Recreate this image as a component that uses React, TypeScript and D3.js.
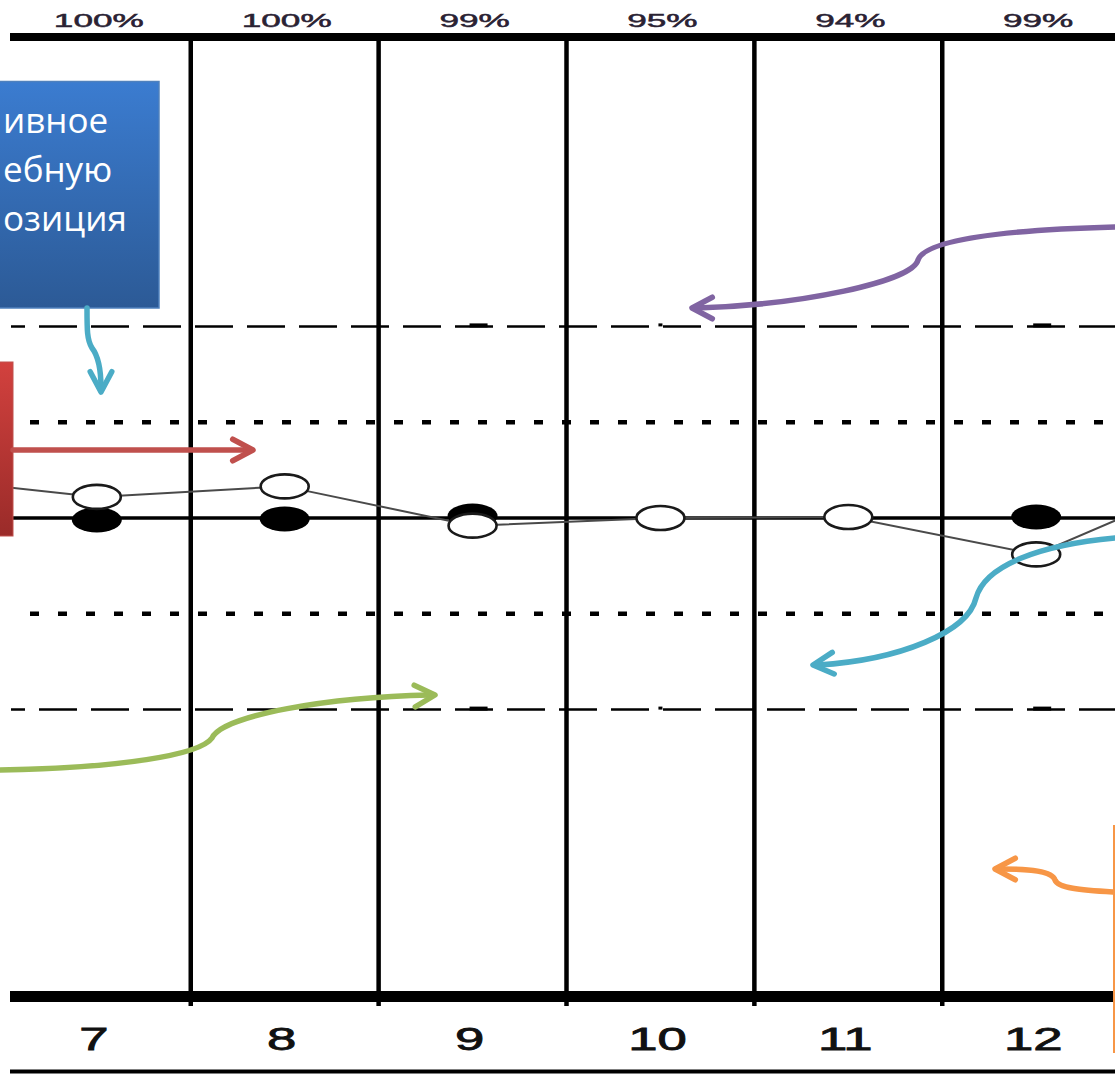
import React from 'react';
import * as d3 from 'd3';

// runs 6 and 13 sit just outside the visible crop, only their connecting segments show
const runs = ['6', '7', '8', '9', '10', '11', '12', '13'];
const shownRuns = ['7', '8', '9', '10', '11', '12'];
const percentLabels = ['100%', '100%', '99%', '95%', '94%', '99%'];
const openValues = [0.43, 0.22, 0.33, -0.08, 0.0, 0.01, -0.38, 0.46];
const filledValues: (number | null)[] = [null, -0.02, -0.01, 0.02, null, null, 0.01, null];
const dashedLevels = [-2, 2];
const dottedLevels = [-1, 1];
const boxLines = ['ивное', 'ебную', 'озиция'];

const W = 1115;
const H = 1074;

const arrowHead = (tx: number, ty: number, fx: number, fy: number, len = 23, deg = 28) => {
  const a = Math.atan2(ty - fy, tx - fx);
  const r = (deg * Math.PI) / 180;
  const p1 = [tx - len * Math.cos(a - r), ty - len * Math.sin(a - r)];
  const p2 = [tx - len * Math.cos(a + r), ty - len * Math.sin(a + r)];
  return `M${p1[0]},${p1[1]}L${tx},${ty}L${p2[0]},${p2[1]}`;
};

const arrows = [
  { color: '#8064a2', d: 'M1115,227 C1000,230 925,240 918,260 C912,282 800,305 697,308', tip: [692, 308], from: [712, 308] },
  { color: '#4bacc6', d: 'M1115,538 C1040,545 985,565 976,598 C968,632 900,660 818,665', tip: [813, 665], from: [835, 663] },
  { color: '#9bbb59', d: 'M0,770 C120,768 200,755 212,738 C222,715 330,697 430,695', tip: [435, 695], from: [415, 696] },
  { color: '#f79646', d: 'M1113,892 C1080,890 1058,888 1055,880 C1052,871 1030,869 1000,869', tip: [995, 869], from: [1015, 869] },
  { color: '#4bacc6', d: 'M87,308 C87,330 87,340 92,348 C99,357 101,372 101,388', tip: [101, 392], from: [101, 372] },
  { color: '#c0504d', d: 'M13,450 L250,450', tip: [253, 450], from: [233, 450] },
];

export default function App() {
  const x = d3.scaleBand<string>().domain(runs).range([3 - 188, 1130 + 188]);
  const y = d3.scaleLinear().domain([-5, 5]).range([997, 39]);
  const cx = (r: string) => (x(r) ?? 0) + x.bandwidth() / 2;

  const line = d3
    .line<number>()
    .x((_, i) => cx(runs[i]))
    .y((v) => y(v));

  const dividers = shownRuns.slice(1);

  return (
    <svg width={W} height={H} style={{ display: 'block', background: '#fff' }}>
      <style>{`body{margin:0}`}</style>
      <defs>
        <linearGradient id="blueBox" x1="0" y1="0" x2="0" y2="1">
          <stop offset="0" stopColor="#3b7cd0" />
          <stop offset="1" stopColor="#2c5a96" />
        </linearGradient>
        <linearGradient id="redBox" x1="0" y1="0" x2="0" y2="1">
          <stop offset="0" stopColor="#d2413e" />
          <stop offset="1" stopColor="#9a2b29" />
        </linearGradient>
      </defs>

      {/* percentages above the frame */}
      {shownRuns.map((r, i) => (
        <g key={'p' + r} transform={`translate(${cx(r) + 2},27) scale(1.85,1)`}>
          <text textAnchor="middle" fontFamily="'Liberation Sans', Arial, sans-serif" fontSize={19}
            fill="#2a2233" stroke="#2a2233" strokeWidth={0.5}>
            {percentLabels[i]}
          </text>
        </g>
      ))}

      {/* SD reference lines */}
      {dashedLevels.map((l) => (
        <line key={'d' + l} x1={11} x2={W} y1={y(l)} y2={y(l)} stroke="#000" strokeWidth={2.5}
          strokeDasharray="38 14" strokeDashoffset={24} />
      ))}
      {dottedLevels.map((l) => (
        <line key={'o' + l} x1={30} x2={W} y1={y(l)} y2={y(l)} stroke="#000" strokeWidth={4.5}
          strokeDasharray="9 19" />
      ))}
      {dashedLevels.flatMap((l) =>
        ['9', '10', '12'].map((r) => (
          <rect key={'t' + l + r} x={cx(r) + (r === '10' ? -2 : -3)} y={y(l) - 3} width={r === '10' ? 4 : 18} height={r === '10' ? 3 : 4} fill="#000" />
        ))
      )}
      <line x1={0} x2={W} y1={y(0)} y2={y(0)} stroke="#000" strokeWidth={3.5} />

      {/* column dividers */}
      {dividers.map((r) => (
        <line key={'v' + r} x1={x(r)} x2={x(r)} y1={37} y2={1006} stroke="#000" strokeWidth={4.5} />
      ))}

      {/* frame */}
      <rect x={10} y={33} width={W - 10} height={8} fill="#000" />
      <rect x={10} y={991} width={W - 10} height={11} fill="#000" />
      <rect x={10} y={1069.5} width={W - 10} height={4} fill="#000" />

      {/* connected open series */}
      <path d={line(openValues) ?? ''} fill="none" stroke="#4a4a4a" strokeWidth={2} />
      {filledValues.map((v, i) =>
        v === null ? null : (
          <ellipse key={'f' + i} cx={cx(runs[i])} cy={y(v)} rx={25} ry={12.5} fill="#000" />
        )
      )}
      {openValues.map((v, i) => (
        <ellipse key={'e' + i} cx={cx(runs[i])} cy={y(v)} rx={24} ry={12} fill="#fff" stroke="#1a1a1a" strokeWidth={2.6} />
      ))}

      {/* run numbers */}
      {shownRuns.map((r) => (
        <g key={'n' + r} transform={`translate(${cx(r) - 3},1050) scale(1.7,1)`}>
          <text textAnchor="middle" fontFamily="'Liberation Sans', Arial, sans-serif" fontSize={31}
            fill="#111" stroke="#111" strokeWidth={0.8}>
            {r}
          </text>
        </g>
      ))}

      {/* annotation boxes */}
      <rect x={-2} y={81.5} width={161} height={226.5} fill="url(#blueBox)" stroke="#4f81bd" strokeWidth={1.5} />
      {boxLines.map((t, i) => (
        <text key={'b' + i} x={3} y={133 + i * 49} fontFamily="'Open Sans', 'Noto Sans', sans-serif" fontSize={35} fill="#fff">
          {t}
        </text>
      ))}
      <rect x={-2} y={362} width={15} height={174} fill="url(#redBox)" stroke="#c0504d" strokeWidth={1} />
      <line x1={1114} x2={1114} y1={825} y2={1053} stroke="#f79646" strokeWidth={2} />

      {/* arrows */}
      {arrows.map((a, i) => (
        <g key={'a' + i} fill="none" stroke={a.color} strokeWidth={5.5} strokeLinecap="round" strokeLinejoin="round">
          <path d={a.d} />
          <path d={arrowHead(a.tip[0], a.tip[1], a.from[0], a.from[1])} />
        </g>
      ))}
    </svg>
  );
}
